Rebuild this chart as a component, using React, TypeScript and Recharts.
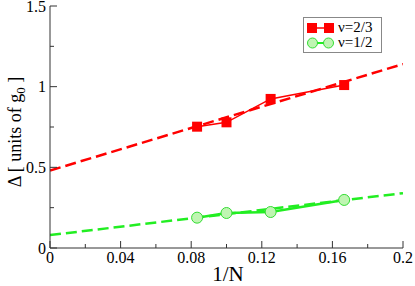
import React from 'react';
import { LineChart, Line, XAxis, YAxis, Legend } from 'recharts';

const xTicks = [0, 0.02, 0.04, 0.06, 0.08, 0.1, 0.12, 0.14, 0.16, 0.18, 0.2];
const xLabels = ['0', '', '0.04', '', '0.08', '', '0.12', '', '0.16', '', '0.2'];
const yTicks = [0, 0.25, 0.5, 0.75, 1, 1.25, 1.5];
const yLabels = ['0', '', '0.5', '', '1', '', '1.5'];

const invN = [1 / 12, 1 / 10, 1 / 8, 1 / 6];
const gap23 = [0.752, 0.779, 0.924, 1.01];
const gap12 = [0.188, 0.217, 0.223, 0.298];

const fitX = [0, 0.2];
const fit23 = [0.48, 1.14];
const fit12 = [0.08, 0.34];

const legendOrder = ['ν=2/3', 'ν=1/2'];

const series23 = invN.map((x, i) => ({ x, y: gap23[i] }));
const series12 = invN.map((x, i) => ({ x, y: gap12[i] }));
const line23 = fitX.map((x, i) => ({ x, y: fit23[i] }));
const line12 = fitX.map((x, i) => ({ x, y: fit12[i] }));

const RED = '#ff0000';
const GREEN = '#22ee22';
const FONT = 'Liberation Serif, Times New Roman, Tinos, DejaVu Serif, serif';
const AXIS = '#333';

const BottomTick = (props: any) => {
  const { x, y, index } = props;
  const major = index % 2 === 0;
  const len = major ? 7 : 4;
  return (
    <g>
      <line x1={x} y1={y} x2={x} y2={y - len} stroke={AXIS} />
      {xLabels[index] && (
        <text x={x} y={y + 15} textAnchor="middle" fontSize={16} fontFamily={FONT} fill="#000">
          {xLabels[index]}
        </text>
      )}
    </g>
  );
};

const TopTick = (props: any) => {
  const { x, y, index } = props;
  const len = index % 2 === 0 ? 7 : 4;
  return <line x1={x} y1={y} x2={x} y2={y + len} stroke={AXIS} />;
};

const LeftTick = (props: any) => {
  const { x, y, index } = props;
  const len = index % 2 === 0 ? 7 : 4;
  return (
    <g>
      <line x1={x} y1={y} x2={x + len} y2={y} stroke={AXIS} />
      {yLabels[index] && (
        <text x={x - 4} y={y + 5.5} textAnchor="end" fontSize={16} fontFamily={FONT} fill="#000">
          {yLabels[index]}
        </text>
      )}
    </g>
  );
};

const RightTick = (props: any) => {
  const { x, y, index } = props;
  const len = index % 2 === 0 ? 7 : 4;
  return <line x1={x} y1={y} x2={x - len} y2={y} stroke={AXIS} />;
};

const SquareDot = (props: any) => (
  <rect key={`sq-${props.index}`} x={props.cx - 5} y={props.cy - 5} width={10} height={10} fill={RED} />
);

const CircleDot = (props: any) => (
  <circle key={`ci-${props.index}`} cx={props.cx} cy={props.cy} r={5.5} fill="#bff5b2" stroke="#33dd33" strokeWidth={1} />
);

const XLabel = () => (
  <text x={228} y={281} textAnchor="middle" fontSize={21} fontFamily={FONT} fill="#000">
    1/N
  </text>
);

const YLabel = () => (
  <text
    transform="translate(21,132) rotate(-90)"
    textAnchor="middle"
    fontSize={18}
    fontFamily={FONT}
    fill="#000"
  >
    Δ [ units of g<tspan dy={4} fontSize={13}>0</tspan>
    <tspan dy={-4}> ]</tspan>
  </text>
);

const LegendBox = (props: any) => {
  const items = (props.payload || [])
    .filter((p: any) => p.type !== 'none')
    .sort((a: any, b: any) => legendOrder.indexOf(a.value) - legendOrder.indexOf(b.value));
  return (
    <div
      style={{
        border: '1px solid #888',
        background: '#fff',
        padding: '2px 2px 2px 3px',
        fontFamily: FONT,
        fontSize: 15,
        width: 72,
      }}
    >
      {items.map((entry: any) => (
        <div
          key={entry.value}
          style={{ display: 'flex', alignItems: 'center', height: 15, lineHeight: '15px' }}
        >
          <svg width={27} height={12} style={{ marginRight: 4, flexShrink: 0 }}>
            {entry.value === 'ν=2/3' ? (
              <g>
                <line x1={4} y1={6} x2={23} y2={6} stroke={RED} strokeWidth={1.5} />
                <rect x={0} y={1} width={10} height={10} fill={RED} />
                <rect x={17} y={1} width={10} height={10} fill={RED} />
              </g>
            ) : (
              <g>
                <line x1={6} y1={6} x2={21} y2={6} stroke={GREEN} strokeWidth={2} />
                <circle cx={5.5} cy={6} r={5} fill="#bff5b2" stroke="#33dd33" />
                <circle cx={21.5} cy={6} r={5} fill="#bff5b2" stroke="#33dd33" />
              </g>
            )}
          </svg>
          <span style={{ whiteSpace: 'nowrap' }}>{entry.value}</span>
        </div>
      ))}
    </div>
  );
};

export default function App() {
  return (
    <div style={{ width: 415, height: 286, background: '#fff' }}>
      <style>{'body{margin:0}'}</style>
      <LineChart width={415} height={286} margin={{ top: 6, right: 12, bottom: 0, left: 0 }}>
        <XAxis
          xAxisId="b"
          dataKey="x"
          type="number"
          domain={[0, 0.2]}
          ticks={xTicks}
          interval={0}
          height={38}
          tickSize={0}
          tickMargin={0}
          tickLine={false}
          tick={<BottomTick />}
          axisLine={{ stroke: AXIS }}
          label={<XLabel />}
          allowDataOverflow
        />
        <XAxis
          xAxisId="t"
          orientation="top"
          dataKey="x"
          type="number"
          domain={[0, 0.2]}
          ticks={xTicks}
          interval={0}
          height={0}
          tickSize={0}
          tickMargin={0}
          tickLine={false}
          tick={<TopTick />}
          axisLine={{ stroke: AXIS }}
        />
        <YAxis
          yAxisId="l"
          type="number"
          domain={[0, 1.5]}
          ticks={yTicks}
          interval={0}
          width={50}
          tickSize={0}
          tickMargin={0}
          tickLine={false}
          tick={<LeftTick />}
          axisLine={{ stroke: AXIS }}
          label={<YLabel />}
          allowDataOverflow
        />
        <YAxis
          yAxisId="r"
          orientation="right"
          type="number"
          domain={[0, 1.5]}
          ticks={yTicks}
          interval={0}
          width={0}
          tickSize={0}
          tickMargin={0}
          tickLine={false}
          tick={<RightTick />}
          axisLine={{ stroke: AXIS }}
        />
        <Legend
          layout="vertical"
          align="center"
          verticalAlign="middle"
          content={<LegendBox />}
          wrapperStyle={{ top: 17, left: 303, width: 80 }}
        />
        <Line
          xAxisId="b"
          yAxisId="l"
          data={line23}
          dataKey="y"
          stroke={RED}
          strokeWidth={2.5}
          strokeDasharray="11 5"
          dot={false}
          legendType="none"
          isAnimationActive={false}
        />
        <Line
          xAxisId="b"
          yAxisId="l"
          data={line12}
          dataKey="y"
          stroke={GREEN}
          strokeWidth={2.5}
          strokeDasharray="11 5"
          dot={false}
          legendType="none"
          isAnimationActive={false}
        />
        <Line
          xAxisId="b"
          yAxisId="l"
          data={series23}
          dataKey="y"
          name="ν=2/3"
          stroke={RED}
          strokeWidth={1.5}
          dot={SquareDot}
          isAnimationActive={false}
        />
        <Line
          xAxisId="b"
          yAxisId="l"
          data={series12}
          dataKey="y"
          name="ν=1/2"
          stroke={GREEN}
          strokeWidth={2.5}
          dot={CircleDot}
          isAnimationActive={false}
        />
      </LineChart>
    </div>
  );
}
